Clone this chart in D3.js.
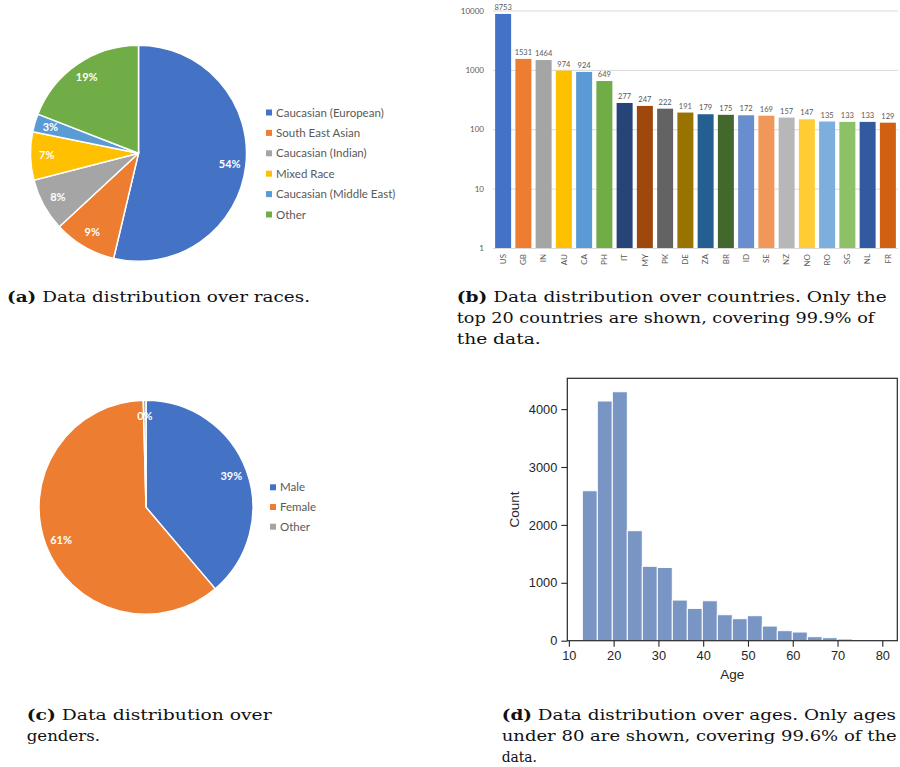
<!DOCTYPE html>
<html><head><meta charset="utf-8">
<script src="https://cdn.jsdelivr.net/npm/d3@7"></script>
<style>body{margin:0;background:#fff} svg{display:block}</style>
</head><body><svg id="c" width="900" height="767"></svg>
<script>
// ---- data ----
const raceLabels = ["Caucasian (European)","South East Asian","Caucasian (Indian)","Mixed Race","Caucasian (Middle East)","Other"];
const raceShares = [53.7, 9.4, 7.9, 7.2, 2.7, 19.1];
const raceColors = ["#4472C4","#ED7D31","#A5A5A5","#FFC000","#5B9BD5","#70AD47"];

const countryCodes = ["US","GB","IN","AU","CA","PH","IT","MY","PK","DE","ZA","BR","ID","SE","NZ","NO","RO","SG","NL","FR"];
const countryCounts = [8753,1531,1464,974,924,649,277,247,222,191,179,175,172,169,157,147,135,133,133,129];
const countryColors = ["#4472C4","#ED7D31","#A5A5A5","#FFC000","#5B9BD5","#70AD47","#264478","#9E480E","#636363","#997300","#255E91","#43682B","#698ED0","#F1975A","#B7B7B7","#FFCD33","#7CAFDD","#8CC168","#335AA1","#D26012"];
const countryTicks = [1,10,100,1000,10000];

const genderLabels = ["Male","Female","Other"];
const genderShares = [38.8, 60.8, 0.4];
const genderColors = ["#4472C4","#ED7D31","#A5A5A5"];

const ageMin = 13, ageMax = 80;
const ageCounts = [2590,4140,4300,1900,1285,1265,702,558,690,449,380,432,253,173,150,69,52,29,12,5];
const ageTicks = [10,20,30,40,50,60,70,80];
const countTicks = [0,1000,2000,3000,4000];

const svg = d3.select("#c");
const excelFont = "Lato, 'Open Sans', sans-serif";

// ---- pie helper ----
function drawPie(cx, cy, R, shares, colors, labels, legendX, legendY, legendStep){
  const g = svg.append("g").attr("transform", `translate(${cx},${cy})`);
  const pie = d3.pie().sort(null).value(d => d)(shares);
  const arc = d3.arc().innerRadius(0).outerRadius(R);
  const labelArc = d3.arc().innerRadius(R*0.85).outerRadius(R*0.85);
  g.selectAll("path").data(pie).join("path")
    .attr("d", arc).attr("fill", (d,i) => colors[i])
    .attr("stroke", "#fff").attr("stroke-width", 1.5);
  g.selectAll("text").data(pie).join("text")
    .attr("transform", d => `translate(${labelArc.centroid(d)})`)
    .attr("text-anchor", "middle").attr("dy", "0.35em")
    .attr("fill", "#fff").attr("font-family", excelFont)
    .attr("font-weight", "bold").attr("font-size", 11)
    .text(d => Math.round(d.data) + "%");
  const lg = svg.append("g").attr("transform", `translate(${legendX},${legendY})`);
  const items = lg.selectAll("g").data(labels).join("g")
    .attr("transform", (d,i) => `translate(0,${i*legendStep})`);
  items.append("rect").attr("x", 0).attr("y", -3).attr("width", 6).attr("height", 6)
    .attr("fill", (d,i) => colors[i]);
  items.append("text").attr("x", 10).attr("dy", "0.35em")
    .attr("font-family", excelFont).attr("font-size", 11.5).attr("fill", "#595959")
    .text(d => d);
}

drawPie(138.5, 153.3, 108, raceShares, raceColors, raceLabels, 266, 112.5, 20.4);
drawPie(146, 507.3, 107, genderShares, genderColors, genderLabels, 270, 487.3, 19.7);

// ---- bar chart (b) ----
{
  const x = d3.scaleBand().domain(countryCodes).range([493, 898]).paddingInner(0.21).paddingOuter(0.105);
  const y = d3.scaleLog().domain([1, 10000]).range([248, 10.5]);
  const g = svg.append("g");
  const ax = g.append("g").attr("transform", "translate(493,0)")
    .call(d3.axisLeft(y).tickValues(countryTicks).tickFormat(d3.format("d")).tickSize(-405).tickPadding(9));
  ax.select(".domain").remove();
  ax.selectAll("line").attr("stroke", "#d9d9d9");
  ax.selectAll("text").attr("font-family", excelFont).attr("font-size", 8).attr("fill", "#595959");
  g.selectAll("rect.bar").data(countryCounts).join("rect").attr("class","bar")
    .attr("x", (d,i) => x(countryCodes[i])).attr("width", x.bandwidth())
    .attr("y", d => y(d)).attr("height", d => y(1) - y(d))
    .attr("fill", (d,i) => countryColors[i]);
  g.selectAll("text.val").data(countryCounts).join("text").attr("class","val")
    .attr("x", (d,i) => x(countryCodes[i]) + x.bandwidth()/2).attr("y", d => y(d) - 4)
    .attr("text-anchor", "middle").attr("font-family", excelFont).attr("font-size", 7.5)
    .attr("fill", "#595959").text(d => d);
  g.selectAll("text.cat").data(countryCodes).join("text").attr("class","cat")
    .attr("transform", d => `translate(${x(d) + x.bandwidth()/2},${y(1) + 6}) rotate(-90)`)
    .attr("text-anchor", "end").attr("dy", "0.35em")
    .attr("font-family", excelFont).attr("font-size", 8).attr("fill", "#595959").text(d => d);
}

// ---- histogram (d) ----
{
  const L = 567.3, Rr = 897.3, T = 378.3, B = 640.7;
  const x = d3.scaleLinear().domain([9.65, 83.35]).range([L, Rr]);
  const y = d3.scaleLinear().domain([0, 4532]).range([B, T]);
  const binW = (ageMax - ageMin) / ageCounts.length;
  const g = svg.append("g");
  g.selectAll("rect").data(ageCounts).join("rect")
    .attr("x", (d,i) => x(ageMin + i*binW)).attr("width", (d,i) => x(ageMin + (i+1)*binW) - x(ageMin + i*binW))
    .attr("y", d => y(d)).attr("height", d => B - y(d))
    .attr("fill", "#4c72b0").attr("fill-opacity", 0.75)
    .attr("stroke", "#fff").attr("stroke-width", 1);
  const axc = "#262626";
  const xa = g.append("g").attr("transform", `translate(0,${B})`)
    .call(d3.axisBottom(x).tickValues(ageTicks).tickFormat(d3.format("d")).tickSize(6).tickPadding(4).tickSizeOuter(0));
  const ya = g.append("g").attr("transform", `translate(${L},0)`)
    .call(d3.axisLeft(y).tickValues(countTicks).tickFormat(d3.format("d")).tickSize(6).tickPadding(4).tickSizeOuter(0));
  [xa, ya].forEach(a => {
    a.select(".domain").remove();
    a.selectAll("line").attr("stroke", axc).attr("stroke-width", 1.1);
    a.selectAll("text").attr("font-family", "'Liberation Sans', Arial, sans-serif").attr("font-size", 12.8).attr("fill", axc);
  });
  g.append("rect").attr("x", L).attr("y", T).attr("width", Rr - L).attr("height", B - T)
    .attr("fill", "none").attr("stroke", axc).attr("stroke-width", 1.2);
  g.append("text").attr("x", (L+Rr)/2).attr("y", 679).attr("text-anchor", "middle")
    .attr("font-family", "'Liberation Sans', Arial, sans-serif").attr("font-size", 13.5).attr("fill", axc).text("Age");
  g.append("text").attr("transform", `translate(519,${(T+B)/2}) rotate(-90)`).attr("text-anchor", "middle")
    .attr("font-family", "'Liberation Sans', Arial, sans-serif").attr("font-size", 13.5).attr("fill", axc).text("Count");
}

// ---- captions ----
const captions = [
  {x: 7, y: 302, lines: [["(a)", " Data distribution over races.", 303]]},
  {x: 456.7, y: 302, lines: [["(b)", " Data distribution over countries. Only the", 430], ["", "top 20 countries are shown, covering 99.9% of", 417.6], ["", "the data.", 84]]},
  {x: 26.7, y: 720, lines: [["(c)", " Data distribution over", 245], ["", "genders.", 73.3]]},
  {x: 501.7, y: 720, lines: [["(d)", " Data distribution over ages. Only ages", 394.3], ["", "under 80 are shown, covering 99.6% of the", 395], ["", "data.", 35.3]]}
];
captions.forEach(c => {
  c.lines.forEach((ln, i) => {
    const t = svg.append("text").attr("x", c.x).attr("y", c.y + i*21)
      .attr("font-family", "'DejaVu Serif', serif").attr("font-size", 15.5).attr("fill", "#111");
    if (ln[2]) t.attr("textLength", ln[2]).attr("lengthAdjust", "spacingAndGlyphs");
    if (ln[0]) t.append("tspan").attr("font-weight", "bold").text(ln[0]);
    t.append("tspan").text(ln[1]);
  });
});
</script></body></html>
